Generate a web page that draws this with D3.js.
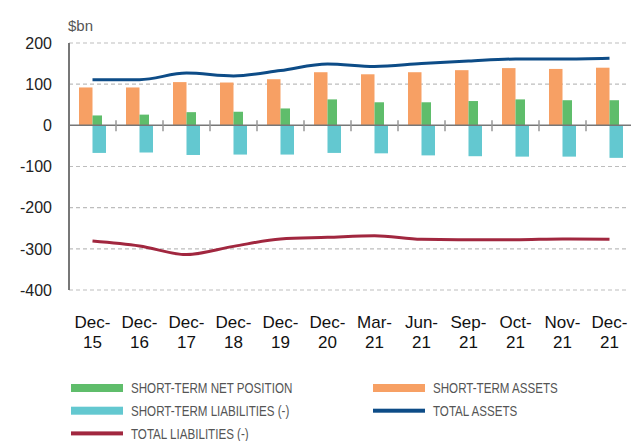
<!DOCTYPE html>
<html>
<head>
<meta charset="utf-8">
<script src="https://cdn.jsdelivr.net/npm/d3@7"></script>
<style>
  body { margin: 0; background: #fff; }
  svg { display: block; }
</style>
</head>
<body>
<svg id="chart" width="631" height="441"></svg>
<script>
// chart data ($bn)
const categories = ['Dec-15', 'Dec-16', 'Dec-17', 'Dec-18', 'Dec-19', 'Dec-20',
    'Mar-21', 'Jun-21', 'Sep-21', 'Oct-21', 'Nov-21', 'Dec-21'];
const shortTermAssets = [92, 92, 105, 104, 112, 129, 124, 129, 134, 139, 137, 140];
const shortTermNet = [24, 26, 32, 33, 41, 63, 56, 56, 59, 63, 61, 61];
const shortTermLiabilities = [-67, -66, -72, -71, -71, -67, -68, -73, -75, -76, -76, -79];
const totalAssets = [111, 111, 127, 120, 133, 149, 143, 150, 156, 161, 161, 163];
const totalLiabilities = [-281, -293, -314, -294, -276, -272, -268, -277, -278, -278, -276, -277];
const yTicks = [200, 100, 0, -100, -200, -300, -400];

const COLORS = {
    net: '#5fbd6b',
    assets: '#f7a064',
    liab: '#63c8d0',
    totalAssets: '#0d4c87',
    totalLiab: '#a1273f'
};

const svg = d3.select('#chart');
const PLOT_LEFT = 69;

const x = d3.scaleBand()
    .domain(categories)
    .range([PLOT_LEFT, 633])
    .padding(0);
const y = d3.scaleLinear()
    .domain([-400, 200])
    .range([290, 43]);
const mid = c => x(c) + x.bandwidth() / 2;

// dashed gridlines
svg.append('g')
    .selectAll('line')
    .data(yTicks.filter(d => d !== 0))
    .enter()
    .append('line')
        .attr('x1', PLOT_LEFT)
        .attr('x2', 628)
        .attr('y1', d => y(d))
        .attr('y2', d => y(d))
        .attr('stroke', '#bdbdbd')
        .attr('stroke-width', 1.2)
        .attr('stroke-dasharray', '4,3');

// y axis labels
svg.append('g')
    .selectAll('text')
    .data(yTicks)
    .enter()
    .append('text')
        .attr('x', 52)
        .attr('y', d => y(d))
        .attr('dy', '0.36em')
        .attr('text-anchor', 'end')
        .attr('font-family', 'Liberation Sans, Arial, sans-serif')
        .attr('font-size', 16)
        .attr('fill', '#222')
        .text(d => d);

svg.append('text')
    .attr('x', 68)
    .attr('y', 31)
    .attr('font-family', 'Liberation Sans, Arial, sans-serif')
    .attr('font-size', 15)
    .attr('fill', '#555')
    .text('$bn');

// bars
const bars = svg.append('g');
bars.selectAll('rect.assets')
    .data(categories)
    .enter()
    .append('rect')
        .attr('class', 'assets')
        .attr('x', (c) => mid(c) - 13.5)
        .attr('width', 13.5)
        .attr('y', (c, i) => y(shortTermAssets[i]))
        .attr('height', (c, i) => y(0) - y(shortTermAssets[i]))
        .attr('fill', COLORS.assets);
bars.selectAll('rect.net')
    .data(categories)
    .enter()
    .append('rect')
        .attr('class', 'net')
        .attr('x', (c) => mid(c))
        .attr('width', 9.5)
        .attr('y', (c, i) => y(Math.max(0, shortTermNet[i])))
        .attr('height', (c, i) => Math.abs(y(0) - y(shortTermNet[i])))
        .attr('fill', COLORS.net);
bars.selectAll('rect.liab')
    .data(categories)
    .enter()
    .append('rect')
        .attr('class', 'liab')
        .attr('x', (c) => mid(c))
        .attr('width', 13.5)
        .attr('y', y(0))
        .attr('height', (c, i) => y(shortTermLiabilities[i]) - y(0))
        .attr('fill', COLORS.liab);

// zero line with category separators
svg.append('line')
    .attr('x1', PLOT_LEFT)
    .attr('x2', 631)
    .attr('y1', y(0))
    .attr('y2', y(0))
    .attr('stroke', '#777')
    .attr('stroke-width', 1.5);
svg.append('g')
    .selectAll('line')
    .data(categories.slice(1))
    .enter()
    .append('line')
        .attr('x1', c => x(c))
        .attr('x2', c => x(c))
        .attr('y1', y(0) - 5)
        .attr('y2', y(0) + 6)
        .attr('stroke', '#999')
        .attr('stroke-width', 1.5);

// y axis line
svg.append('line')
    .attr('x1', PLOT_LEFT)
    .attr('x2', PLOT_LEFT)
    .attr('y1', y(200))
    .attr('y2', y(-400))
    .attr('stroke', '#777')
    .attr('stroke-width', 2);

// lines
const lineGen = d3.line()
    .x((d, i) => mid(categories[i]))
    .y(d => y(d))
    .curve(d3.curveMonotoneX);
svg.append('path')
    .datum(totalAssets)
    .attr('d', lineGen)
    .attr('fill', 'none')
    .attr('stroke', COLORS.totalAssets)
    .attr('stroke-width', 3);
svg.append('path')
    .datum(totalLiabilities)
    .attr('d', lineGen)
    .attr('fill', 'none')
    .attr('stroke', COLORS.totalLiab)
    .attr('stroke-width', 3);

// x labels, two lines each
const xLabels = svg.append('g')
    .selectAll('text')
    .data(categories)
    .enter()
    .append('text')
        .attr('text-anchor', 'middle')
        .attr('font-family', 'Liberation Sans, Arial, sans-serif')
        .attr('font-size', 17)
        .attr('fill', '#111');
xLabels.append('tspan')
    .attr('x', c => mid(c))
    .attr('y', 328)
    .text(c => c.split('-')[0] + '-');
xLabels.append('tspan')
    .attr('x', c => mid(c))
    .attr('y', 348)
    .text(c => c.split('-')[1]);

// legend
const legendItems = [
    { label: 'SHORT-TERM NET POSITION', color: COLORS.net, h: 8, col: 0, row: 0 },
    { label: 'SHORT-TERM ASSETS', color: COLORS.assets, h: 8, col: 1, row: 0 },
    { label: 'SHORT-TERM LIABILITIES (-)', color: COLORS.liab, h: 8, col: 0, row: 1 },
    { label: 'TOTAL ASSETS', color: COLORS.totalAssets, h: 4, col: 1, row: 1 },
    { label: 'TOTAL LIABILITIES (-)', color: COLORS.totalLiab, h: 4, col: 0, row: 2 }
];
const legendX = [71, 373];
const legend = svg.append('g')
    .selectAll('g')
    .data(legendItems)
    .enter()
    .append('g')
        .attr('transform', d => `translate(${legendX[d.col]},${388 + d.row * 22.7})`);
legend.append('rect')
    .attr('x', 0)
    .attr('y', d => -d.h / 2)
    .attr('width', 52)
    .attr('height', d => d.h)
    .attr('fill', d => d.color);
// the reference uses a condensed face, so squeeze the text horizontally
legend.append('text')
    .attr('transform', 'translate(60,0) scale(0.8,1)')
    .attr('dy', '0.36em')
    .attr('font-family', 'Liberation Sans, Arial, sans-serif')
    .attr('font-size', 14.5)
    .attr('fill', '#555')
    .text(d => d.label);
</script>
</body>
</html>
